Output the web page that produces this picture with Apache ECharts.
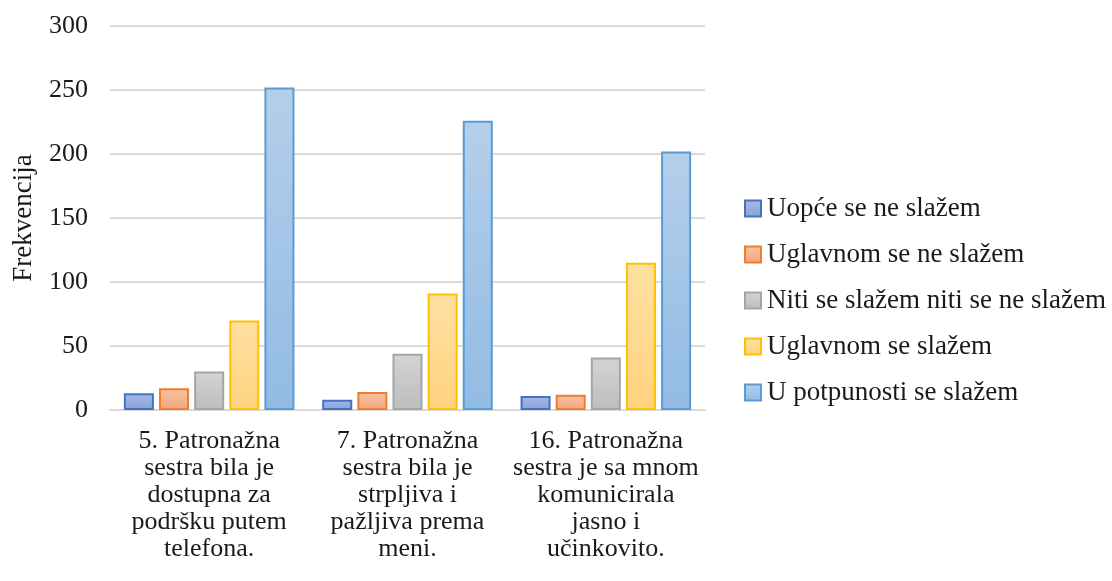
<!DOCTYPE html>
<html>
<head>
<meta charset="utf-8">
<script src="https://cdn.jsdelivr.net/npm/echarts@6/dist/echarts.min.js"></script>
<style>html,body{margin:0;padding:0;background:#fff}#c{width:1112px;height:581px}</style>
</head>
<body>
<div id="c"></div>
<script>
const categories = [
  "5. Patronažna\nsestra bila je\ndostupna za\npodršku putem\ntelefona.",
  "7. Patronažna\nsestra bila je\nstrpljiva i\npažljiva prema\nmeni.",
  "16. Patronažna\nsestra je sa mnom\nkomunicirala\njasno i\nučinkovito."
];
const seriesNames = [
  "Uopće se ne slažem",
  "Uglavnom se ne slažem",
  "Niti se slažem niti se ne slažem",
  "Uglavnom se slažem",
  "U potpunosti se slažem"
];
const uopce = [13, 8, 11];
const uglavnomNe = [17, 14, 12];
const niti = [30, 44, 41];
const uglavnomDa = [70, 91, 115];
const potpuno = [252, 226, 202];
const yTicks = [0, 50, 100, 150, 200, 250, 300];

const values = [uopce, uglavnomNe, niti, uglavnomDa, potpuno];
const fills = [["#a9b9e2","#8aa2d8"],["#f7c3a4","#f2a57d"],["#d4d4d4","#bdbdbd"],["#ffe0a3","#ffd37f"],["#b4cfea","#92bbe4"]];
const borders = ["#4472c4","#ed7d31","#a5a5a5","#ffc000","#5b9bd5"];
const font = "Liberation Serif";

const series = seriesNames.map((n, i) => ({
  name: n,
  type: 'bar',
  data: values[i],
  barGap: '17%',
  barCategoryGap: '14%',
  itemStyle: {
    color: new echarts.graphic.LinearGradient(0,0,0,1,[{offset:0,color:fills[i][0]},{offset:1,color:fills[i][1]}]),
    borderColor: borders[i],
    borderWidth: 2
  }
}));

const chart = echarts.init(document.getElementById('c'));
chart.setOption({
  animation: false,
  textStyle: {fontFamily: font},
  grid: {left: 110, right: 407, top: 26, bottom: 171},
  legend: {
    orient: 'vertical',
    left: 739,
    top: 190,
    itemGap: 19,
    itemWidth: 16,
    itemHeight: 16,
    icon: 'rect',
    textStyle: {fontFamily: font, fontSize: 27, color: '#1a1a1a', padding: [0,0,0,1]},
    data: seriesNames
  },
  xAxis: {
    type: 'category',
    data: categories,
    axisLine: {show: true, lineStyle: {color: '#d9d9d9', width: 2}},
    axisTick: {show: false},
    axisLabel: {fontFamily: font, fontSize: 26, color: '#1a1a1a', lineHeight: 27, margin: 18, interval: 0, align: 'center'}
  },
  yAxis: {
    type: 'value',
    min: 0, max: 300, interval: 50,
    name: 'Frekvencija',
    nameLocation: 'middle',
    nameRotate: 90,
    nameGap: 73,
    nameTextStyle: {fontFamily: font, fontSize: 27, color: '#1a1a1a'},
    axisLine: {show: false},
    axisTick: {show: false},
    splitLine: {lineStyle: {color: '#d9d9d9', width: 2}},
    axisLabel: {fontFamily: font, fontSize: 26, color: '#1a1a1a', margin: 22,
      formatter: v => yTicks.includes(v) ? String(v) : ''}
  },
  series: series
});
</script>
</body>
</html>
